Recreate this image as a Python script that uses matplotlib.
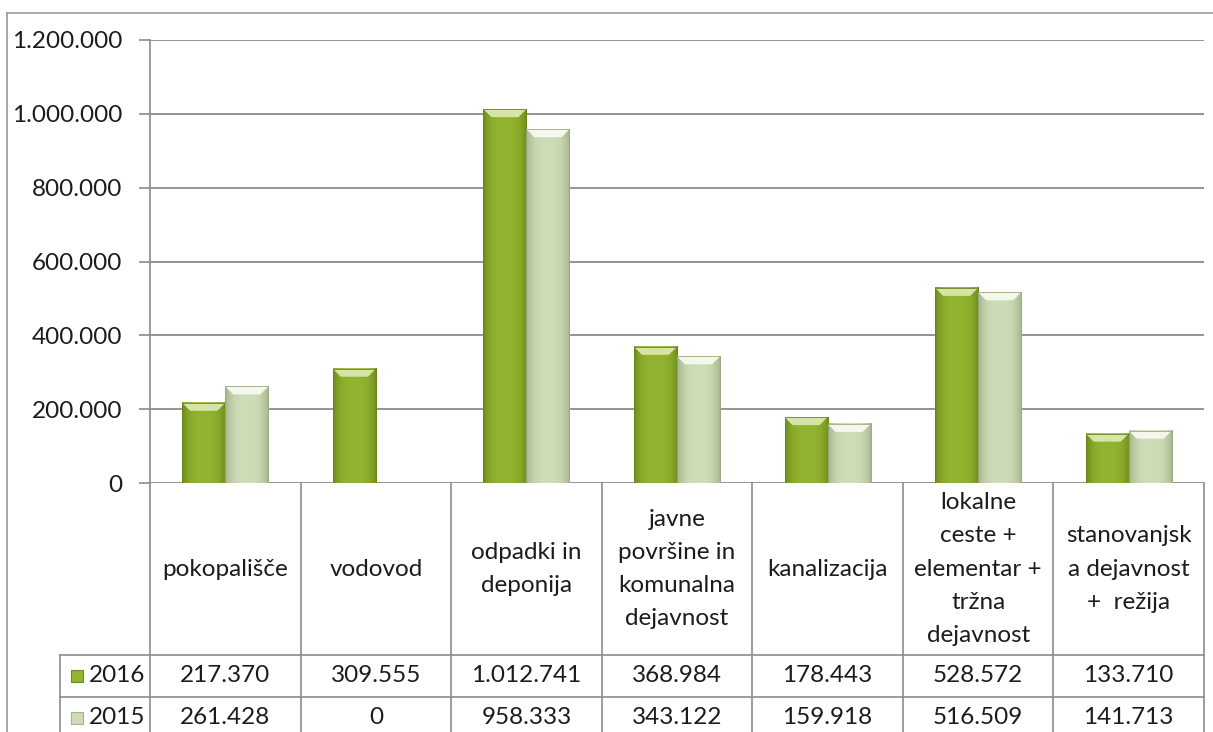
import numpy as np
import matplotlib.pyplot as plt
import matplotlib.transforms as mtransforms
from matplotlib.patches import Rectangle, Polygon
from matplotlib.lines import Line2D

plt.rcParams['font.family'] = ['Lato', 'DejaVu Sans']

# podatki
kategorije = [
    'pokopališče',
    'vodovod',
    'odpadki in\ndeponija',
    'javne\npovršine in\nkomunalna\ndejavnost',
    'kanalizacija',
    'lokalne\nceste +\nelementar +\ntržna\ndejavnost',
    'stanovanjsk\na dejavnost\n+  režija',
]
leta = ['2016', '2015']
v2016 = [217370, 309555, 1012741, 368984, 178443, 528572, 133710]
v2015 = [261428, 0, 958333, 343122, 159918, 516509, 141713]
yticks = [0, 200000, 400000, 600000, 800000, 1000000, 1200000]

barve = {'2016': ((110, 140, 26), (146, 180, 48), (214, 228, 168)),
         '2015': ((165, 180, 138), (206, 220, 184), (243, 248, 234))}


def fmt(v):
    return f'{v:,}'.replace(',', '.')


W, H = 1213, 732
fig = plt.figure(figsize=(W / 100, H / 100), dpi=100)
ax_l, ax_r, ax_t, ax_b = 150, 1204, 40, 483
ax = fig.add_axes([ax_l / W, 1 - ax_b / H, (ax_r - ax_l) / W, (ax_b - ax_t) / H])

n = len(kategorije)
x = np.arange(n)
sirina = 1 / 3.5
ax.set_xlim(-0.5, n - 0.5)
ax.set_ylim(0, 1200000)

siva = '#8c8c8c'
besedilo = '#1c1c1c'
fs = 17.5
ax.set_yticks(yticks)
ax.set_yticklabels([fmt(t) for t in yticks], fontsize=fs, color=besedilo)
ax.tick_params(axis='y', length=8, width=1.2, color=siva, pad=12)
ax.set_xticks([])
ax.grid(axis='y', color=siva, linewidth=1.3)
ax.set_axisbelow(True)
for s in ['top', 'right', 'bottom']:
    ax.spines[s].set_visible(False)
ax.spines['left'].set_color(siva)
ax.spines['left'].set_linewidth(1.2)

# stolpci z rahlim reliefom
px_x = (ax_r - ax_l) / n          # piksli na kategorijo
px_y = (ax_b - ax_t) / 1200000    # piksli na enoto
bev_x = 8 / px_x
bev_y = 8 / px_y


def relief(patch, leto):
    x0, w, h = patch.get_x(), patch.get_width(), patch.get_height()
    if h <= 0:
        return
    temna, srednja, svetla = [np.array(c) / 255 for c in barve[leto]]
    t = np.linspace(-1, 1, 60)
    k = np.clip(1 - np.abs(t) ** 3, 0, 1)[:, None]
    grad = temna + (srednja - temna) * k
    ax.imshow(grad[None, :, :], extent=[x0, x0 + w, 0, h], aspect='auto',
              origin='lower', zorder=3, interpolation='bilinear')
    bx = min(bev_x, w / 3)
    by = min(bev_y, h / 2)
    ax.add_patch(Polygon([(x0, h), (x0 + w, h), (x0 + w - bx, h - by), (x0 + bx, h - by)],
                         closed=True, facecolor=svetla, edgecolor='none', zorder=4))
    ax.add_patch(Rectangle((x0, 0), w, h, facecolor='none', edgecolor=temna * 0.95,
                           linewidth=0.6, zorder=5))


for leto, vals, off in [('2016', v2016, -sirina / 2), ('2015', v2015, sirina / 2)]:
    bars = ax.bar(x + off, vals, sirina, color=np.array(barve[leto][1]) / 255, zorder=2)
    for p in bars:
        relief(p, leto)

# tabela pod grafom
tr = mtransforms.blended_transform_factory(ax.transData, ax.transAxes)


def ay(py):
    return (ax_b - py) / (ax_b - ax_t)


def dx(pxx):
    return -0.5 + (pxx - ax_l) / px_x


vrstice = [483, 655, 697, 760]
levo = dx(60)
for yy in vrstice[1:]:
    fig.add_artist(Line2D([levo, n - 0.5], [ay(yy)] * 2, transform=tr, color=siva, lw=1.2))
for i in range(n + 1):
    fig.add_artist(Line2D([i - 0.5] * 2, [ay(vrstice[0]), ay(vrstice[-1])], transform=tr,
                          color=siva, lw=1.2))
fig.add_artist(Line2D([levo] * 2, [ay(vrstice[1]), ay(vrstice[-1])], transform=tr,
                      color=siva, lw=1.2))

for i, k in enumerate(kategorije):
    fig.text(i, ay((vrstice[0] + vrstice[1]) / 2), k, transform=tr, ha='center', va='center',
             fontsize=fs, color=besedilo, linespacing=1.72, multialignment='center')

for r, (leto, vals) in enumerate([('2016', v2016), ('2015', v2015)]):
    yc = ay(676) if r == 0 else ay(718)
    sq = 12
    temna, srednja, svetla = [np.array(c) / 255 for c in barve[leto]]
    fig.add_artist(Rectangle((dx(71), yc - sq / 2 / (ax_b - ax_t)), sq / px_x, sq / (ax_b - ax_t),
                             transform=tr, facecolor=srednja, edgecolor=temna, lw=0.8))
    fig.text(dx(89), yc, leto, transform=tr, ha='left', va='center', fontsize=fs,
             color=besedilo)
    for i, v in enumerate(vals):
        fig.text(i, yc, fmt(v), transform=tr, ha='center', va='center', fontsize=fs,
                 color=besedilo)

# zunanji okvir
fig.add_artist(Line2D([7 / W, 7 / W], [0, 1 - 13 / H], color='#9a9a9a', lw=1.2))
fig.add_artist(Line2D([7 / W, 1], [1 - 13 / H, 1 - 13 / H], color='#9a9a9a', lw=1.2))

fig.savefig('out.png', dpi=100)
